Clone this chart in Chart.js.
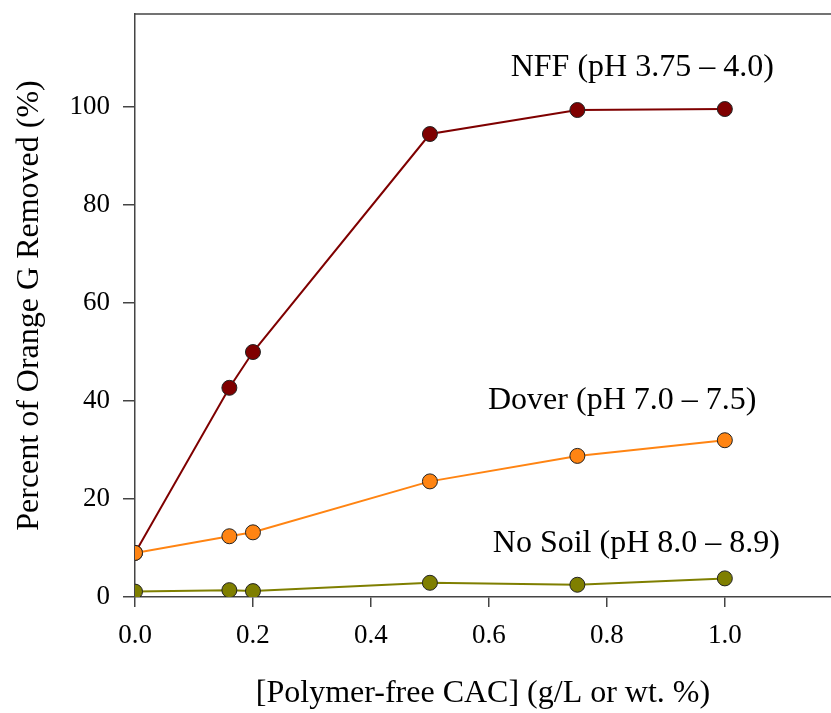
<!DOCTYPE html>
<html>
<head>
<meta charset="utf-8">
<script src="https://cdn.jsdelivr.net/npm/chart.js@4/dist/chart.umd.min.js"></script>
<style>
  html, body { margin: 0; padding: 0; background: #fff; }
  #wrap { width: 831px; height: 713px; }
</style>
</head>
<body>
<div id="wrap"><canvas id="lineCanvas" width="831" height="713"></canvas></div>
<script>
// data
var concentrations = [0, 0.16, 0.2, 0.5, 0.75, 1.0];
var nffValues = [9.0, 42.7, 50.0, 94.5, 99.4, 99.6];
var doverValues = [9.0, 12.4, 13.2, 23.6, 28.8, 32.0];
var noSoilValues = [1.1, 1.4, 1.2, 2.9, 2.5, 3.8];
var seriesNames = ['NFF (pH 3.75 \u2013 4.0)', 'Dover (pH 7.0 \u2013 7.5)', 'No Soil (pH 8.0 \u2013 8.9)'];
var labelAnchorX = [0.86, 0.826, 0.85];
var labelAnchorY = [108, 40, 10.8];
var xTicks = [0, 0.2, 0.4, 0.6, 0.8, 1.0];
var yTicks = [0, 20, 40, 60, 80, 100];

var serif = "'Liberation Serif', 'Times New Roman', serif";

function pts(ys) {
    return concentrations.map(function (x, i) { return {x: x, y: ys[i]}; });
}

function series(label, ys, color, order) {
    return {
        label: label,
        data: pts(ys),
        order: order,
        borderColor: color,
        backgroundColor: color,
        borderWidth: 2,
        pointRadius: 7.5,
        pointBorderColor: '#222',
        pointBorderWidth: 1,
        pointBackgroundColor: color,
        fill: false,
        tension: 0
    };
}

var labelsPlugin = {
    id: 'seriesLabels',
    afterDatasetsDraw: function (chart) {
        var ctx = chart.ctx, xs = chart.scales.x, ys = chart.scales.y, area = chart.chartArea;
        ctx.save();
        // top frame line
        ctx.strokeStyle = '#444';
        ctx.lineWidth = 1.5;
        ctx.beginPath();
        ctx.moveTo(area.left, area.top);
        ctx.lineTo(area.right, area.top);
        ctx.stroke();
        ctx.fillStyle = '#000';
        ctx.font = '32px ' + serif;
        ctx.textAlign = 'center';
        ctx.textBaseline = 'middle';
        seriesNames.forEach(function (name, i) {
            ctx.fillText(name, xs.getPixelForValue(labelAnchorX[i]), ys.getPixelForValue(labelAnchorY[i]));
        });
        ctx.restore();
    }
};

var canvas = document.getElementById('lineCanvas'),
    ctx = canvas.getContext('2d');

var chart = new Chart(ctx, {
    type: 'line',
    data: {
        datasets: [
            series(seriesNames[0], nffValues, '#7f0000', 3),
            series(seriesNames[1], doverValues, '#ff8412', 2),
            series(seriesNames[2], noSoilValues, '#7f7f00', 1)
        ]
    },
    options: {
        responsive: false,
        animation: false,
        layout: {autoPadding: false, padding: {top: 14, right: 0, bottom: 0, left: 0}},
        plugins: {legend: {display: false}, tooltip: {enabled: false}},
        scales: {
            x: {
                type: 'linear',
                min: 0,
                max: 1.18,
                afterBuildTicks: function (axis) {
                    axis.ticks = xTicks.map(function (v) { return {value: v}; });
                },
                afterFit: function (axis) {
                    axis.height = 116;
                    axis.paddingLeft = 0;
                    axis.paddingRight = 0;
                },
                grid: {drawOnChartArea: false, drawTicks: true, tickLength: 10, color: '#444', lineWidth: 1.5},
                border: {display: true, color: '#444', width: 1.5},
                ticks: {
                    color: '#000',
                    padding: 13,
                    maxRotation: 0,
                    font: {family: serif, size: 27},
                    callback: function (v) { return Number(v).toFixed(1); }
                },
                title: {
                    display: true,
                    text: '[Polymer-free CAC] (g/L or wt. %)',
                    color: '#000',
                    font: {family: serif, size: 32},
                    padding: {top: 0, bottom: 0}
                }
            },
            y: {
                min: 0,
                max: 119,
                afterBuildTicks: function (axis) {
                    axis.ticks = yTicks.map(function (v) { return {value: v}; });
                },
                afterFit: function (axis) {
                    axis.width = 135;
                    axis.paddingTop = 0;
                    axis.paddingBottom = 0;
                },
                grid: {drawOnChartArea: false, drawTicks: true, tickLength: 12, color: '#444', lineWidth: 1.5},
                border: {display: true, color: '#444', width: 1.5},
                ticks: {
                    color: '#000',
                    padding: 13,
                    font: {family: serif, size: 27}
                },
                title: {
                    display: true,
                    text: 'Percent of Orange G Removed (%)',
                    color: '#000',
                    font: {family: serif, size: 32},
                    padding: {top: 10, bottom: 0}
                }
            }
        }
    },
    plugins: [labelsPlugin]
});
</script>
</body>
</html>
